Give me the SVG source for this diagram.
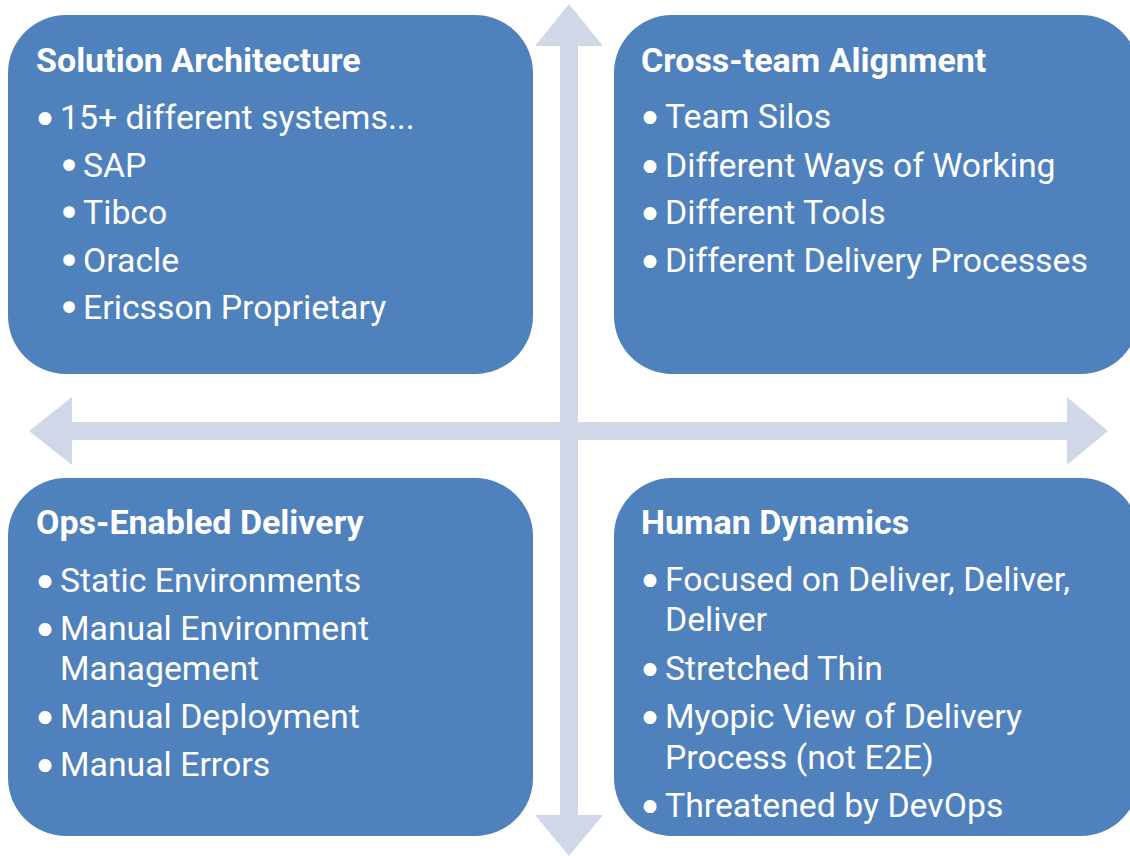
<svg xmlns="http://www.w3.org/2000/svg" width="1130" height="856" viewBox="0 0 1130 856">
<style>
.box{fill:#4F81BD;}
.arr{fill:#D0D8E8;}
.t{font-family:Roboto,"Liberation Sans",sans-serif;font-weight:bold;font-size:34px;fill:#FFFFFF;}
.i{font-family:Roboto,"Liberation Sans",sans-serif;font-size:33.8px;fill:#FFFFFF;}
.b{font-family:"DejaVu Sans",sans-serif;font-size:44px;fill:#FFFFFF;text-anchor:middle;}
.b2{font-family:"DejaVu Sans",sans-serif;font-size:40px;fill:#FFFFFF;text-anchor:middle;}
</style>
<rect width="1130" height="856" fill="#FFFFFF"/>
<g id="connectors">
<polygon class="arr" points="569,4 603,46 578,46 578,815 603,815 569,856 535,815 560,815 560,46 535,46"/>
<polygon class="arr" points="29,431 72,397 72,422 1067,422 1067,397 1108,431 1067,465 1067,440 72,440 72,465"/>
</g>
<g id="solution-architecture">
<rect class="box" x="8" y="15" width="525" height="359" rx="58" ry="58"/>
<text class="t" x="36" y="72">Solution Architecture</text>
<text class="b" x="45" y="135">•</text>
<text class="i" x="60" y="129">15+ different systems...</text>
<text class="b2" x="69" y="180">•</text>
<text class="i" x="83" y="177">SAP</text>
<text class="b2" x="69" y="227">•</text>
<text class="i" x="83" y="224">Tibco</text>
<text class="b2" x="69" y="275">•</text>
<text class="i" x="83" y="272">Oracle</text>
<text class="b2" x="69" y="322">•</text>
<text class="i" x="83" y="319">Ericsson Proprietary</text>
</g>
<g id="cross-team-alignment">
<rect class="box" x="614" y="15" width="525" height="359" rx="58" ry="58"/>
<text class="t" x="641" y="72">Cross-team Alignment</text>
<text class="b" x="650" y="134">•</text>
<text class="i" x="665" y="128">Team Silos</text>
<text class="b" x="650" y="183">•</text>
<text class="i" x="665" y="177">Different Ways of Working</text>
<text class="b" x="650" y="230">•</text>
<text class="i" x="665" y="224">Different Tools</text>
<text class="b" x="650" y="278">•</text>
<text class="i" x="665" y="272">Different Delivery Processes</text>
</g>
<g id="ops-enabled-delivery">
<rect class="box" x="8" y="478" width="525" height="358" rx="58" ry="58"/>
<text class="t" x="36" y="534">Ops-Enabled Delivery</text>
<text class="b" x="45" y="598">•</text>
<text class="i" x="60" y="592">Static Environments</text>
<text class="b" x="45" y="646">•</text>
<text class="i" x="60" y="640">Manual Environment</text>
<text class="i" x="60" y="680">Management</text>
<text class="b" x="45" y="734">•</text>
<text class="i" x="60" y="728">Manual Deployment</text>
<text class="b" x="45" y="782">•</text>
<text class="i" x="60" y="776">Manual Errors</text>
</g>
<g id="human-dynamics">
<rect class="box" x="614" y="478" width="525" height="358" rx="58" ry="58"/>
<text class="t" x="641" y="534">Human Dynamics</text>
<text class="b" x="650" y="597">•</text>
<text class="i" x="665" y="591">Focused on Deliver, Deliver,</text>
<text class="i" x="665" y="631">Deliver</text>
<text class="b" x="650" y="686">•</text>
<text class="i" x="665" y="680">Stretched Thin</text>
<text class="b" x="650" y="734">•</text>
<text class="i" x="665" y="728">Myopic View of Delivery</text>
<text class="i" x="665" y="769">Process (not E2E)</text>
<text class="b" x="650" y="823">•</text>
<text class="i" x="665" y="817">Threatened by DevOps</text>
</g>
</svg>
